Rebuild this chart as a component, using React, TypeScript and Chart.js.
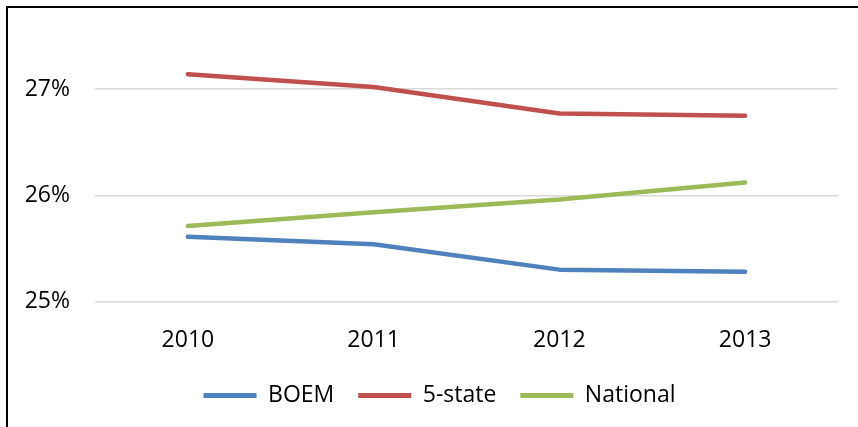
import React, { useEffect, useRef } from "react";
import { Chart, registerables } from "chart.js";

Chart.register(...registerables);

const categories = ["2010", "2011", "2012", "2013"];
const boem = [25.61, 25.54, 25.3, 25.28];
const fiveState = [27.14, 27.02, 26.77, 26.75];
const national = [25.71, 25.84, 25.96, 26.12];
const yTicks = [25, 26, 27];

const FONT = "'Open Sans', 'Liberation Sans', sans-serif";

const legendShift = {
  id: "legendShift",
  beforeDraw(chart: any) {
    const lg = chart.legend;
    if (lg) lg.left = 33;
  },
};

export default function App() {
  const ref = useRef<HTMLCanvasElement | null>(null);
  useEffect(() => {
    if (!ref.current) return;
    const mk = (label: string, data: number[], color: string) => ({
      label,
      data,
      borderColor: color,
      backgroundColor: color,
      borderWidth: 4.5,
      pointRadius: 0,
      pointHoverRadius: 0,
      borderCapStyle: "round" as const,
      borderJoinStyle: "round" as const,
      tension: 0,
      fill: false,
    });
    const chart = new Chart(ref.current, {
      type: "line",
      data: {
        labels: categories,
        datasets: [
          mk("BOEM", boem, "#4F81BD"),
          mk("5-state", fiveState, "#C0504D"),
          mk("National", national, "#9BBB59"),
        ],
      },
      plugins: [legendShift],
      options: {
        animation: false,
        responsive: false,
        maintainAspectRatio: false,
        layout: { padding: { left: 0, right: 20, top: 28, bottom: 10 } },
        plugins: {
          tooltip: { enabled: false },
          legend: {
            position: "bottom",
            labels: {
              boxWidth: 53,
              boxHeight: 5,
              padding: 24,
              color: "#000",
              font: { family: FONT, size: 23 },
              generateLabels: (c: any) =>
                c.data.datasets.map((ds: any, i: number) => ({
                  text: ds.label,
                  fillStyle: ds.borderColor,
                  strokeStyle: ds.borderColor,
                  lineWidth: 0,
                  hidden: false,
                  datasetIndex: i,
                  fontColor: "#000",
                })),
            },
          },
        },
        scales: {
          x: {
            offset: true,
            grid: { display: false, drawTicks: false },
            border: { display: false },
            afterFit: (axis: any) => {
              axis.height = 58.5;
            },
            ticks: {
              color: "#000",
              padding: 25,
              font: { family: FONT, size: 23 },
            },
          },
          y: {
            min: 25,
            max: 27.5,
            afterBuildTicks: (axis: any) => {
              axis.ticks = yTicks.map((v) => ({ value: v }));
            },
            afterFit: (axis: any) => {
              axis.width = 87;
              axis.paddingTop = 0;
              axis.paddingBottom = 0;
            },
            grid: { color: "#D9D9D9", lineWidth: 1.5, drawTicks: false },
            border: { display: false },
            ticks: {
              color: "#000",
              padding: 25,
              font: { family: FONT, size: 23 },
              callback: (v: any) => v + "%",
            },
          },
        },
      },
    });
    return () => chart.destroy();
  }, []);
  return (
    <div
      style={{
        position: "absolute",
        left: 6,
        top: 6,
        width: 852,
        height: 421,
        borderLeft: "2px solid #000",
        borderTop: "2px solid #000",
        background: "#fff",
      }}
    >
      <canvas ref={ref} width={850} height={419} style={{ display: "block" }} />
    </div>
  );
}
